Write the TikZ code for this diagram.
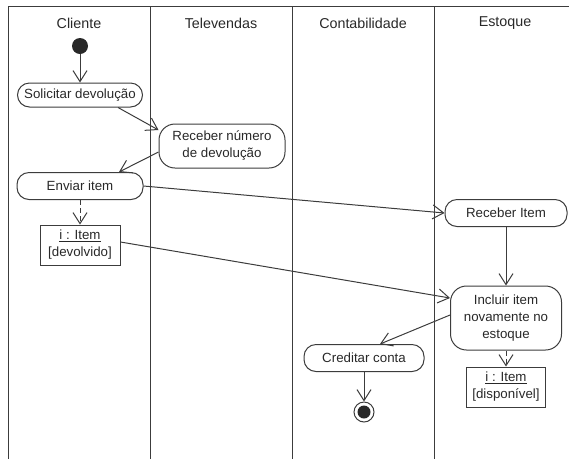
\documentclass[tikz,border=0pt]{standalone}
\usepackage{fontspec}
\setmainfont{Liberation Sans}
\usetikzlibrary{arrows.meta}
\definecolor{linec}{RGB}{60,60,60}
\definecolor{textc}{RGB}{40,40,40}
\definecolor{dotc}{RGB}{40,40,40}
\begin{document}
\begin{tikzpicture}[x=1pt,y=-1pt,
  ink/.style={draw=linec, line width=1pt},
  act/.style={ink, rounded corners=12pt, minimum height=26pt, align=center,
    text=textc, font=\fontsize{13.3}{17}\selectfont, inner sep=0pt},
  tallact/.style={act, rounded corners=16pt},
  obj/.style={ink, align=center, text=textc, font=\fontsize{13.3}{17}\selectfont,
    inner sep=0pt, minimum width=80pt, minimum height=40pt},
  flow/.style={ink, -{Straight Barb[length=11pt,width=14pt]}},
  objflow/.style={flow, dash pattern=on 5pt off 3pt},
  lane/.style={ink},
  hdr/.style={text=textc, font=\fontsize{14.3}{16}\selectfont}
]
\useasboundingbox (0,0) rectangle (569,459);

% swimlanes
\draw[lane] (8,6) -- (569,6);
\draw[lane] (8,6) -- (8,459);
\draw[lane] (150,6) -- (150,459);
\draw[lane] (292,6) -- (292,459);
\draw[lane] (434,6) -- (434,459);

\node[hdr] (h1) at (79,23) {Cliente};
\node[hdr] (h2) at (221,23) {Televendas};
\node[hdr] (h3) at (363,23) {Contabilidade};
\node[hdr] (h4) at (505,23) {Estoque};

% nodes
\node[circle, fill=dotc, minimum size=16pt, inner sep=0pt] (init) at (80,46) {};
\node[act, minimum width=125pt, minimum height=24pt] (sol) at (80,95) {Solicitar devolução};
\node[tallact, minimum width=126pt, minimum height=44pt] (rec) at (222,146) {Receber número\\de devolução};
\node[act, minimum width=126pt, minimum height=27pt] (env) at (80,186) {Enviar item};
\node[obj] (obj1) at (80,245) {\underline{i : Item}\\{[devolvido]}};
\node[act, minimum width=122pt, minimum height=27pt] (recit) at (506,213) {Receber Item};
\node[tallact, minimum width=111pt, minimum height=64pt] (inc) at (506,318) {Incluir item\\novamente no\\estoque};
\node[act, minimum width=120pt, minimum height=27pt] (cred) at (364,358) {Creditar conta};
\node[obj, minimum width=79pt] (obj2) at (506,387) {\underline{i : Item}\\{[disponível]}};
\node[circle, ink, minimum size=20pt, inner sep=0pt] (final) at (364,412) {};
\node[circle, fill=dotc, minimum size=13pt, inner sep=0pt] (finaldot) at (final) {};

% flows
\draw[flow] (init) -- (sol);
\draw[flow] ([xshift=38pt]sol.south) -- ([yshift=16pt]rec.west);
\draw[flow] ([yshift=-6pt]rec.west) -- ([xshift=39pt]env.north);
\draw[flow] (env.east) -- (recit.west);
\draw[objflow] (env.south) -- (obj1.north);
\draw[flow] ([yshift=3pt]obj1.east) -- ([yshift=20pt]inc.west);
\draw[flow] (recit.south) -- (inc.north);
\draw[flow] ([yshift=3pt]inc.west) -- ([xshift=16pt]cred.north);
\draw[flow] (cred.south) -- (final.north);
\draw[objflow] (inc.south) -- (obj2.north);
\end{tikzpicture}
\end{document}
